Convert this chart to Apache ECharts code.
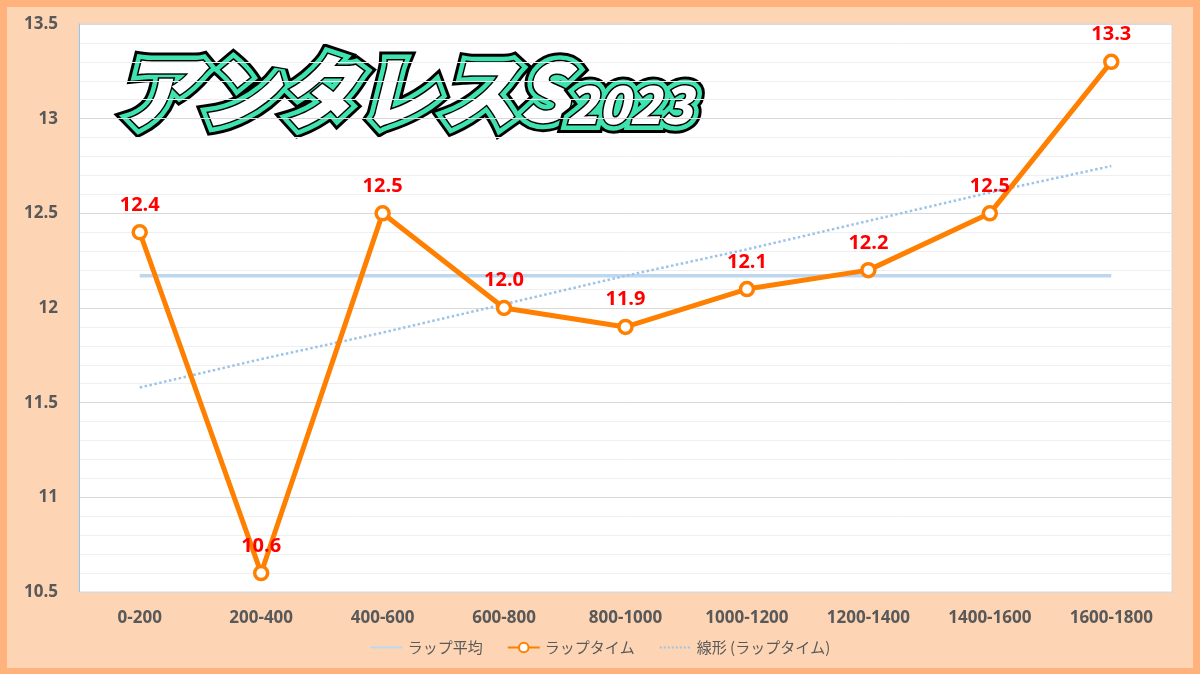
<!DOCTYPE html>
<html>
<head>
<meta charset="utf-8">
<title>アンタレスS2023</title>
<script src="https://cdn.jsdelivr.net/npm/echarts@6/dist/echarts.min.js"></script>
<style>
    html, body { margin: 0; padding: 0; }
    #lapCh { width: 1200px; height: 674px; }
</style>
</head>
<body>
<div id="lapCh"></div>
<script>
// ラップデータ
var categories = ['0-200', '200-400', '400-600', '600-800', '800-1000', '1000-1200', '1200-1400', '1400-1600', '1600-1800'];
var lapTimes = [12.4, 10.6, 12.5, 12.0, 11.9, 12.1, 12.2, 12.5, 13.3];
var lapAverage = [12.17, 12.17, 12.17, 12.17, 12.17, 12.17, 12.17, 12.17, 12.17];
var lapTrend = [11.58, 11.73, 11.87, 12.02, 12.17, 12.31, 12.46, 12.61, 12.75];
var yTicks = [10.5, 11, 11.5, 12, 12.5, 13, 13.5];
var seriesNames = ['ラップ平均', 'ラップタイム', '線形 (ラップタイム)'];

// タイトル文字（黒縁 → 緑縁 → 白抜き の3枚重ね）
function titleLayers(text, x, y, fontSize) {
    var font = 'italic 900 ' + fontSize + 'px "Noto Sans CJK JP"';
    function layer(fill, stroke, width, shadow) {
        var style = {
            text: text, font: font, fill: fill, stroke: stroke, lineWidth: width,
            lineJoin: 'round', miterLimit: 1,
            verticalAlign: 'middle', align: 'left'
        };
        if (shadow) {
            style.shadowColor = 'rgba(0,0,0,0.45)';
            style.shadowBlur = 5;
            style.shadowOffsetX = 4;
            style.shadowOffsetY = 4;
        }
        return {type: 'text', x: x, y: y, style: style};
    }
    return [
        layer('#000', '#000', 18, true),
        layer('#3EE3B0', '#3EE3B0', 12, false),
        layer('#fff', '#000', 3, false)
    ];
}

function lapEcharts() {
    var myChart = echarts.init(document.getElementById('lapCh'));

    var labelColor = '#595959';
    var titleGroup = {
        type: 'group',
        z: 100,
        silent: true,
        children: titleLayers('アンタレスS', 118, 92, 80).concat(titleLayers('2023', 566, 104, 52))
    };

    var option = {
        backgroundColor: '#FFB27B',
        animation: false,
        graphic: [
            {type: 'rect', z: -10, silent: true, shape: {x: 7, y: 7, width: 1186, height: 661},
                style: {fill: '#FDD5B5'}},
            titleGroup
        ],
        grid: {
            left: 79,
            right: 28,
            top: 24,
            bottom: 82,
            show: true,
            backgroundColor: '#fff',
            borderColor: '#D9D9D9',
            borderWidth: 1
        },
        legend: {
            bottom: 14,
            left: 'center',
            itemWidth: 32,
            itemHeight: 12,
            itemGap: 24,
            textStyle: {color: labelColor, fontSize: 15, fontFamily: '"Noto Sans CJK JP"'},
            data: [
                {name: seriesNames[0], itemStyle: {opacity: 0}},
                {name: seriesNames[1]},
                {name: seriesNames[2], itemStyle: {opacity: 0}}
            ]
        },
        xAxis: {
            type: 'category',
            data: categories,
            axisLine: {lineStyle: {color: '#D9D9D9'}},
            axisTick: {show: false},
            axisLabel: {
                color: labelColor,
                fontSize: 17,
                fontWeight: 'bold',
                fontFamily: '"Open Sans"',
                margin: 18
            }
        },
        yAxis: {
            type: 'value',
            min: yTicks[0],
            max: yTicks[yTicks.length - 1],
            interval: yTicks[1] - yTicks[0],
            axisLine: {show: true, lineStyle: {color: '#9DC3E6'}},
            axisTick: {show: false},
            axisLabel: {
                color: labelColor,
                fontSize: 17,
                fontWeight: 'bold',
                fontFamily: '"Open Sans"',
                margin: 21
            },
            splitLine: {lineStyle: {color: '#D9D9D9', width: 1}},
            minorTick: {show: false, splitNumber: 5},
            minorSplitLine: {show: true, lineStyle: {color: '#EFEFEF', width: 1}}
        },
        series: [
            {
                name: seriesNames[0],
                type: 'line',
                data: lapAverage,
                symbol: 'none',
                z: 2,
                lineStyle: {color: '#BDD7EE', width: 3.5},
                itemStyle: {color: '#BDD7EE'}
            },
            {
                name: seriesNames[1],
                type: 'line',
                data: lapTimes,
                symbol: 'circle',
                symbolSize: 13,
                z: 4,
                lineStyle: {color: '#FF8000', width: 5},
                itemStyle: {color: '#fff', borderColor: '#FF8000', borderWidth: 3.5},
                label: {
                    show: true,
                    position: 'top',
                    distance: 9,
                    color: '#FF0000',
                    fontSize: 20,
                    fontWeight: 'bold',
                    fontFamily: '"Open Sans"',
                    formatter: function (p) { return p.value.toFixed(1); }
                }
            },
            {
                name: seriesNames[2],
                type: 'line',
                data: lapTrend,
                symbol: 'none',
                z: 3,
                lineStyle: {color: '#9DC3E6', width: 2.5, type: 'dotted'},
                itemStyle: {color: '#9DC3E6'}
            }
        ]
    };

    myChart.setOption(option);
}

lapEcharts();
</script>
</body>
</html>
